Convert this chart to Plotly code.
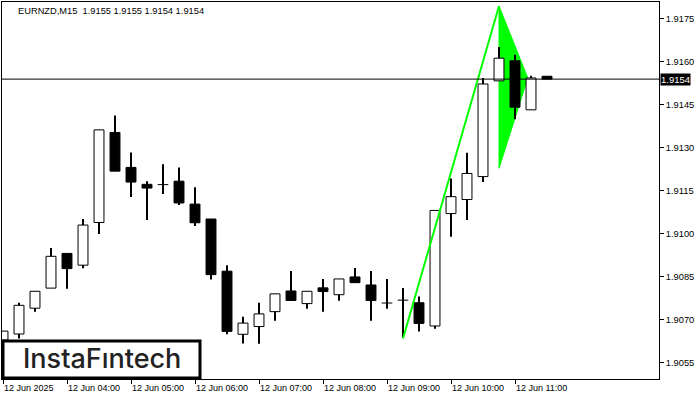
import plotly.graph_objects as go

# ---- data (EURNZD M15, candle index 0 = 12 Jun 03:00) ----
idx = list(range(35))
opens = [1.90630, 1.90651, 1.90741, 1.90811, 1.90932, 1.90891, 1.91040, 1.91354, 1.91232, 1.91173,
         1.91172, 1.91184, 1.91104, 1.91052, 1.90870, 1.90650, 1.90677, 1.90729, 1.90801, 1.90757,
         1.90812, 1.90788, 1.90850, 1.90822, 1.90759, 1.90769, 1.90760, 1.90679, 1.91071, 1.91120,
         1.91200, 1.91534, 1.91604, 1.91433, 1.91550]
highs = [1.90661, 1.90760, 1.90800, 1.90951, 1.90932, 1.91052, 1.91363, 1.91413, 1.91284, 1.91184,
         1.91243, 1.91232, 1.91163, 1.91052, 1.90891, 1.90711, 1.90760, 1.90791, 1.90871, 1.90800,
         1.90843, 1.90843, 1.90881, 1.90871, 1.90843, 1.90811, 1.90782, 1.91082, 1.91193, 1.91283,
         1.91544, 1.91652, 1.91625, 1.91552, 1.91550]
lows = [1.90610, 1.90635, 1.90729, 1.90811, 1.90809, 1.90880, 1.91000, 1.91219, 1.91129, 1.91049,
        1.91139, 1.91101, 1.91028, 1.90841, 1.90650, 1.90618, 1.90617, 1.90697, 1.90768, 1.90739,
        1.90729, 1.90767, 1.90830, 1.90697, 1.90739, 1.90639, 1.90660, 1.90669, 1.90990, 1.91049,
        1.91181, 1.91534, 1.91400, 1.91433, 1.91540]
closes = [1.90661, 1.90751, 1.90800, 1.90922, 1.90879, 1.91031, 1.91363, 1.91219, 1.91181, 1.91160,
          1.91172, 1.91108, 1.91039, 1.90858, 1.90660, 1.90689, 1.90721, 1.90791, 1.90768, 1.90800,
          1.90799, 1.90843, 1.90830, 1.90768, 1.90759, 1.90769, 1.90688, 1.91082, 1.91130, 1.91211,
          1.91523, 1.91613, 1.91442, 1.91544, 1.91540]

# pennant pattern (pole + flag triangle)
pole_x = [25, 31]
pole_y = [1.90635, 1.91795]
flag_x = [31, 32.8, 31]
flag_y = [1.91795, 1.91544, 1.91229]

last_price = 1.9154
title_text = "EURNZD,M15  1.9155 1.9155 1.9154 1.9154"

x_tickvals = [0, 4, 8, 12, 16, 20, 24, 28, 32]
x_ticktext = ["12 Jun 2025", "12 Jun 04:00", "12 Jun 05:00", "12 Jun 06:00", "12 Jun 07:00",
              "12 Jun 08:00", "12 Jun 09:00", "12 Jun 10:00", "12 Jun 11:00"]
y_tickvals = [1.9055, 1.9070, 1.9085, 1.9100, 1.9115, 1.9130, 1.9145, 1.9160, 1.9175]
y_ticktext = ["1.9055", "1.9070", "1.9085", "1.9100", "1.9115", "1.9130", "1.9145", "1.9160", "1.9175"]

# ---- layout geometry (pixels) ----
W, H = 700, 400
L, R, T, B = 2, 41, 2, 21
pw, ph = W - L - R, H - T - B


def px_x(p):
    return (p - L) / pw


def px_y(p):
    return (H - B - p) / ph


FONT = "Liberation Sans"
GREEN = "#00FF00"

fig = go.Figure()

# wicks (thin bars so they sit under the bodies)
fig.add_trace(go.Bar(x=idx, y=[h - l for h, l in zip(highs, lows)], base=lows, width=0.065,
                     marker=dict(color="black", line=dict(width=0)), hoverinfo="skip"))

# bodies
body_x, body_base, body_h, body_col = [], [], [], []
dx, dy = [], []
for i, o, c in zip(idx, opens, closes):
    if abs(c - o) < 1e-9:
        dx += [i - 0.33, i + 0.33, None]
        dy += [o, o, None]
        continue
    body_x.append(i)
    body_base.append(min(o, c))
    body_h.append(abs(c - o))
    body_col.append("white" if c > o else "black")
fig.add_trace(go.Bar(x=body_x, y=body_h, base=body_base, width=0.62,
                     marker=dict(color=body_col, line=dict(color="black", width=1)),
                     hoverinfo="skip"))
fig.add_trace(go.Scatter(x=dx, y=dy, mode="lines", line=dict(color="black", width=1),
                         hoverinfo="skip"))

# pole line (over candles)
fig.add_trace(go.Scatter(x=pole_x, y=pole_y, mode="lines", line=dict(color=GREEN, width=2),
                         hoverinfo="skip"))

flag_path = "M " + " L ".join(f"{a},{b}" for a, b in zip(flag_x, flag_y)) + " Z"

shapes = [
    dict(type="path", xref="x", yref="y", path=flag_path, fillcolor=GREEN,
         line=dict(color=GREEN, width=1), layer="below"),
    dict(type="line", xref="paper", yref="y", x0=0, x1=1, y0=last_price, y1=last_price,
         line=dict(color="black", width=1), layer="above"),
    dict(type="rect", xref="paper", yref="paper", x0=px_x(3), x1=px_x(200),
         y0=px_y(378), y1=px_y(341), fillcolor="white", line=dict(color="black", width=3),
         layer="above"),
]

annotations = [
    dict(text=title_text, xref="paper", yref="paper", x=px_x(16), y=px_y(11),
         xanchor="left", yanchor="middle", showarrow=False,
         font=dict(family=FONT, size=9.3, color="black")),
    dict(text="InstaF\u0131ntech", xref="paper", yref="paper", x=px_x(102), y=px_y(358),
         xanchor="center", yanchor="middle", showarrow=False,
         font=dict(family="Inter", size=27, color="#222222", weight=500)),
    dict(text="1.9154", xref="paper", yref="y", x=1, y=last_price, xanchor="left",
         yanchor="middle", showarrow=False, bgcolor="black", borderpad=0,
         xshift=1, font=dict(family=FONT, size=9.5, color="white")),
]

fig.update_layout(
    width=W, height=H, margin=dict(l=L, r=R, t=T, b=B, autoexpand=False),
    paper_bgcolor="white", plot_bgcolor="white", showlegend=False,
    barmode="overlay", hovermode=False,
    shapes=shapes, annotations=annotations,
    xaxis=dict(range=[-0.0625, 41], tickvals=x_tickvals, ticktext=x_ticktext,
               ticks="outside", ticklen=4, tickcolor="black", showgrid=False, zeroline=False,
               showline=True, linecolor="black", linewidth=1, mirror=True,
               ticklabelposition="outside right", tickangle=0, automargin=False,
               tickfont=dict(family=FONT, size=9, color="black")),
    yaxis=dict(range=[1.90494, 1.91809], side="right", tickvals=y_tickvals, ticktext=y_ticktext,
               ticks="outside", ticklen=4, tickcolor="black", showgrid=False, zeroline=False,
               showline=True, linecolor="black", linewidth=1, mirror=True, automargin=False,
               tickfont=dict(family=FONT, size=9.3, color="black")),
)

fig.write_html("out.html", config={"displayModeBar": False},
               post_script="document.body.style.margin='0px';document.body.style.padding='0px';")
